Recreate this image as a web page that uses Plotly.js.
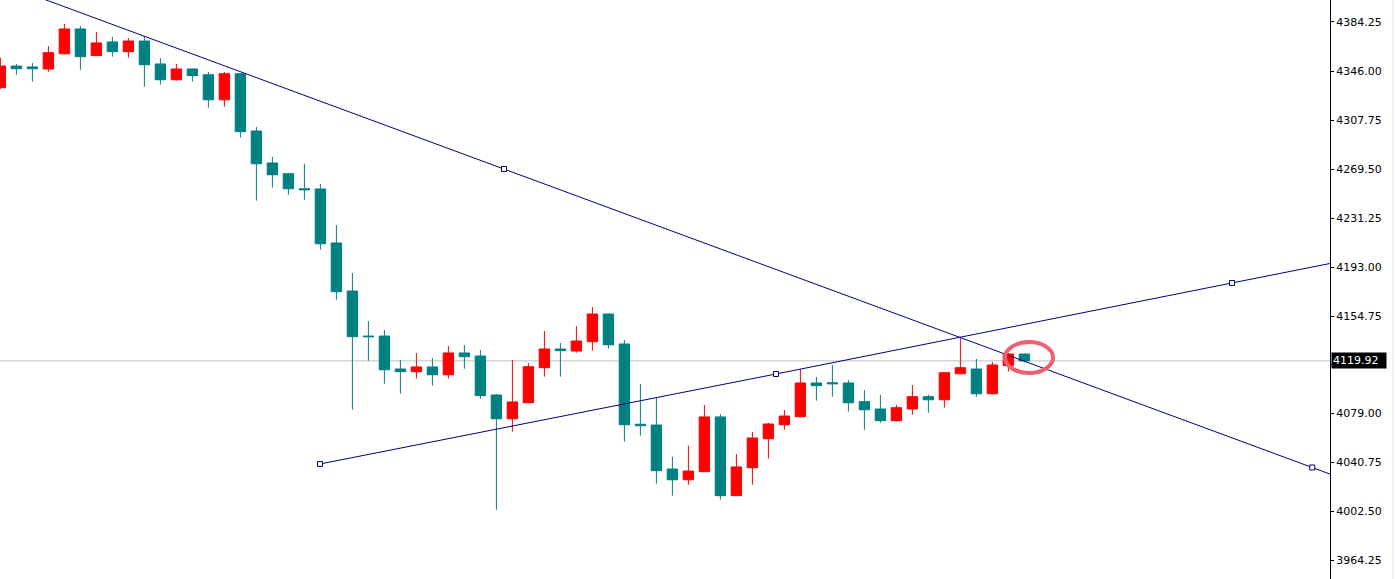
<!DOCTYPE html>
<html>
<head>
<meta charset="utf-8">
<script src="https://cdn.plot.ly/plotly-3.0.1.min.js"></script>
<style>html,body{margin:0;padding:0;background:#fff;}#chart{width:1396px;height:579px;}</style>
</head>
<body>
<div id="chart"></div>
<script>
// candle index (bar number)
var barIndex = [];
for (var i = 0; i < 65; i++) barIndex.push(i);

var openVals = [4333.0, 4349.9, 4349.2, 4347.6, 4359.5, 4378.8, 4358.0, 4368.7, 4361.1, 4369.4,
  4351.5, 4339.2, 4347.6, 4343.1, 4323.6, 4343.9, 4299.2, 4274.3, 4265.9, 4254.2,
  4254.0, 4211.9, 4174.4, 4139.3, 4139.3, 4113.6, 4111.5, 4115.2, 4109.1, 4126.1,
  4123.7, 4093.3, 4074.8, 4087.3, 4114.6, 4129.2, 4127.6, 4134.9, 4156.5, 4133.1,
  4070.5, 4069.9, 4035.6, 4027.2, 4033.5, 4076.2, 4014.8, 4036.6, 4059.2, 4070.1,
  4076.4, 4102.7, 4102.9, 4102.7, 4088.1, 4082.4, 4073.3, 4082.4, 4092.0, 4089.6,
  4109.9, 4113.6, 4094.3, 4116.2, 4125.3];
var highVals = [4356.4, 4351.5, 4352.3, 4365.5, 4382.7, 4381.1, 4376.5, 4372.6, 4371.8, 4373.3,
  4355.9, 4351.5, 4347.8, 4345.3, 4345.3, 4344.3, 4302.4, 4279.0, 4266.7, 4273.7,
  4257.9, 4225.9, 4188.5, 4151.0, 4144.0, 4120.6, 4126.1, 4122.2, 4131.5, 4132.3,
  4128.4, 4094.1, 4120.6, 4118.3, 4143.2, 4133.9, 4147.1, 4162.0, 4156.8, 4136.2,
  4101.9, 4091.2, 4045.2, 4053.8, 4085.5, 4078.5, 4047.3, 4064.5, 4071.5, 4081.6,
  4113.6, 4107.4, 4116.7, 4105.0, 4097.2, 4093.3, 4085.7, 4101.1, 4093.5, 4111.0,
  4138.8, 4121.4, 4119.1, 4126.1, 4125.6];
var lowVals = [4332.0, 4343.1, 4337.7, 4345.5, 4359.0, 4347.0, 4357.8, 4357.2, 4356.4, 4333.8,
  4335.3, 4338.5, 4337.7, 4317.4, 4318.2, 4294.0, 4244.9, 4255.0, 4249.5, 4245.6,
  4206.6, 4167.6, 4081.8, 4120.1, 4102.1, 4094.3, 4106.0, 4100.6, 4106.0, 4113.8,
  4090.4, 4003.8, 4064.7, 4087.0, 4107.6, 4107.6, 4126.3, 4127.9, 4129.4, 4056.9,
  4061.6, 4024.1, 4014.8, 4023.3, 4033.2, 4011.6, 4014.5, 4023.3, 4043.6, 4066.2,
  4076.0, 4088.9, 4092.0, 4080.3, 4066.2, 4071.7, 4072.5, 4077.9, 4079.5, 4083.4,
  4109.6, 4092.0, 4094.0, 4111.5, 4118.8];
var closeVals = [4349.9, 4347.8, 4347.8, 4360.3, 4378.8, 4357.2, 4367.9, 4361.1, 4369.4, 4350.9,
  4339.2, 4347.6, 4342.4, 4323.6, 4343.9, 4298.7, 4273.7, 4265.1, 4254.2, 4253.4,
  4211.3, 4173.9, 4138.8, 4138.8, 4113.0, 4111.5, 4115.2, 4109.1, 4126.1, 4123.2,
  4092.8, 4074.8, 4087.9, 4115.4, 4129.2, 4127.9, 4135.4, 4156.5, 4132.5, 4070.1,
  4069.4, 4034.3, 4027.2, 4034.0, 4076.2, 4014.8, 4037.2, 4059.8, 4070.7, 4076.9,
  4102.7, 4100.6, 4102.1, 4087.3, 4081.8, 4073.3, 4083.4, 4092.0, 4089.6, 4110.7,
  4114.6, 4094.3, 4116.7, 4125.3, 4119.92];

// price axis labels
var tickValues = [4384.25, 4346.00, 4307.75, 4269.50, 4231.25, 4193.00, 4154.75, 4117.25, 4079.00, 4040.75, 4002.50, 3964.25];
var tickLabels = ["4384.25", "4346.00", "4307.75", "4269.50", "4231.25", "4193.00", "4154.75", "4117.25", "4079.00", "4040.75", "4002.50", "3964.25"];

var currentPrice = 4119.92;

// descending trendline (bar, price)
var downLineX = [-1, 31.475, 81.99, 84];
var downLineY = [4419.2, 4269.6, 4036.8, 4027.5];
var downAnchorX = [31.475, 81.99];
var downAnchorY = [4269.6, 4036.8];

// ascending trendline (bar, price)
var upLineX = [19.975, 48.475, 76.975, 84];
var upLineY = [4039.5, 4109.7, 4180.7, 4198.1];
var upAnchorX = [19.975, 48.475, 76.975];
var upAnchorY = [4039.5, 4109.7, 4180.7];

// highlight ellipse (bar range, price range)
var circleX = [62.79, 65.79];
var circleY = [4110.5, 4134.6];

var navy = '#000080';
var traces = [
  {
    type: 'candlestick', x: barIndex, open: openVals, high: highVals, low: lowVals, close: closeVals,
    increasing: {line: {color: '#ff0000', width: 1}, fillcolor: '#ff0000'},
    decreasing: {line: {color: '#008080', width: 1}, fillcolor: '#008080'},
    whiskerwidth: 0, hoverinfo: 'skip', showlegend: false
  },
  {type: 'scatter', mode: 'lines', x: downLineX, y: downLineY, line: {color: navy, width: 1}, hoverinfo: 'skip', showlegend: false},
  {type: 'scatter', mode: 'lines', x: upLineX, y: upLineY, line: {color: navy, width: 1}, hoverinfo: 'skip', showlegend: false},
  {type: 'scatter', mode: 'markers', x: downAnchorX.concat(upAnchorX), y: downAnchorY.concat(upAnchorY),
    marker: {symbol: 'square', size: 5, color: '#ffffff', line: {color: navy, width: 1}}, hoverinfo: 'skip', showlegend: false}
];

var layout = {
  width: 1396, height: 579,
  margin: {l: 0, r: 66, t: 0, b: 0, pad: 0},
  paper_bgcolor: '#ffffff', plot_bgcolor: '#ffffff',
  showlegend: false,
  boxgap: 0.35, boxgroupgap: 0,
  xaxis: {range: [-0.025, 83.1], visible: false, rangeslider: {visible: false}, fixedrange: true},
  yaxis: {
    range: [3949.8, 4401.4], side: 'right', showgrid: false, zeroline: false,
    showline: true, linecolor: '#000000', linewidth: 1,
    ticks: 'outside', ticklen: 3, tickcolor: '#000000', tickwidth: 1,
    tickmode: 'array', tickvals: tickValues, ticktext: tickLabels,
    tickfont: {family: 'DejaVu Sans', size: 11, color: '#000000'},
    fixedrange: true
  },
  shapes: [
    {type: 'line', xref: 'paper', x0: 0, x1: 1, yref: 'y', y0: currentPrice, y1: currentPrice,
      line: {color: '#c0c0c0', width: 1}, layer: 'below'},
    {type: 'circle', xref: 'x', yref: 'y', x0: circleX[0], x1: circleX[1], y0: circleY[0], y1: circleY[1],
      line: {color: '#ee6070', width: 4}, layer: 'above'},
    {type: 'line', xref: 'paper', x0: 1.0474, x1: 1.0474, yref: 'paper', y0: 0, y1: 1,
      line: {color: '#e4e4e4', width: 1}}
  ],
  annotations: [
    {xref: 'paper', x: 1, xanchor: 'left', xshift: 1, yref: 'y', y: currentPrice, yanchor: 'middle',
      text: currentPrice.toFixed(2), showarrow: false, bgcolor: '#000000', borderpad: 1, width: 52, align: 'left',
      font: {family: 'DejaVu Sans', size: 11, color: '#ffffff'}}
  ]
};

Plotly.newPlot('chart', traces, layout, {staticPlot: true, displayModeBar: false});
</script>
</body>
</html>
